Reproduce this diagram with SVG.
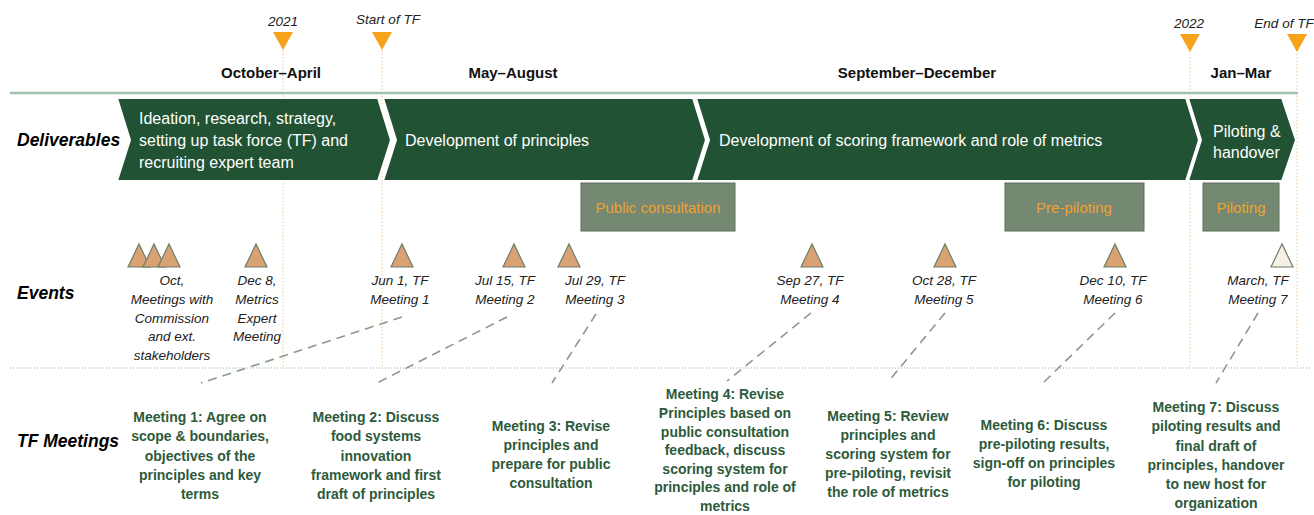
<svg xmlns="http://www.w3.org/2000/svg" width="1314" height="515" viewBox="0 0 1314 515">
<defs>
<style>
text{font-family:"Liberation Sans",Arial,sans-serif}
.top{font-size:13.5px;font-style:italic;fill:#222;text-anchor:middle}
.hdr{font-size:15px;font-weight:bold;fill:#111;text-anchor:middle}
.row{font-size:17.5px;font-weight:bold;font-style:italic;fill:#000}
.chev{fill:#215234;stroke:#fff;stroke-width:2}
.ct{font-size:16px;fill:#fff}
.box{fill:#748872;stroke:#5d6f5c;stroke-width:1}
.bt{font-size:15px;fill:#f0a22e;text-anchor:middle}
.tri{fill:#d9a273;stroke:#6e7d69;stroke-width:1.2}
.et{font-size:13.5px;font-style:italic;fill:#222;text-anchor:middle}
.mt{font-size:14px;font-weight:bold;fill:#2d5a3b;text-anchor:middle}
.vl{stroke:#f5c58e;stroke-width:1;stroke-dasharray:1.5,2;fill:none}
.conn{stroke:#8b9a88;stroke-width:1.6;stroke-dasharray:9,6;fill:none}
.mk{fill:#f7a21b}
</style>
</defs>
<rect width="1314" height="515" fill="#fff"/>
<g id="guides">
<line class="vl" x1="283" y1="50" x2="283" y2="368"/>
<line class="vl" x1="382" y1="50" x2="382" y2="368"/>
<line class="vl" x1="1190" y1="50" x2="1190" y2="366"/>
<line class="vl" x1="1297" y1="50" x2="1297" y2="366"/>
<line x1="10" y1="93" x2="1298" y2="93" stroke="#a3c0aa" stroke-width="2.5"/>
<line x1="10" y1="368" x2="1310" y2="368" stroke="#7fb08a" stroke-width="1" stroke-dasharray="1,2"/>
</g>
<g id="markers">
<text class="top" x="283" y="26">2021</text>
<polygon class="mk" points="273,32 293,32 283,50"/>
<text class="top" x="388" y="24">Start of TF</text>
<polygon class="mk" points="372,32 392,32 382,50"/>
<text class="top" x="1189" y="28">2022</text>
<polygon class="mk" points="1180,34 1200,34 1190,52"/>
<text class="top" x="1284" y="28">End of TF</text>
<polygon class="mk" points="1287,34 1307,34 1297,52"/>
</g>
<g id="headers">
<text class="hdr" x="271" y="78">October–April</text>
<text class="hdr" x="513" y="78">May–August</text>
<text class="hdr" x="917" y="78">September–December</text>
<text class="hdr" x="1241" y="78">Jan–Mar</text>
</g>
<g id="row-labels">
<text class="row" x="17" y="146">Deliverables</text>
<text class="row" x="17" y="299">Events</text>
<text class="row" x="17" y="447">TF Meetings</text>
</g>
<g id="deliverable-1">
<polygon class="chev" points="117,98 378,98 391,140 378,181 117,181 130,140"/>
<text class="ct" x="139" y="124">Ideation, research, strategy,</text>
<text class="ct" x="139" y="146">setting up task force (TF) and</text>
<text class="ct" x="139" y="168">recruiting expert team</text>
</g>
<g id="deliverable-2">
<polygon class="chev" points="383,98 693,98 706,140 693,181 383,181 396,140"/>
<text class="ct" x="405" y="146">Development of principles</text>
</g>
<g id="deliverable-3">
<polygon class="chev" points="696,98 1186,98 1199,140 1186,181 696,181 709,140"/>
<text class="ct" x="719" y="146">Development of scoring framework and role of metrics</text>
</g>
<g id="deliverable-4">
<polygon class="chev" points="1188,98 1282,98 1296,140 1282,181 1188,181 1201,140"/>
<text class="ct" x="1213" y="137">Piloting &amp;</text>
<text class="ct" x="1213" y="158">handover</text>
</g>
<g id="public-consultation">
<rect class="box" x="581" y="183" width="154" height="48"/>
<text class="bt" x="658" y="213">Public consultation</text>
</g>
<g id="pre-piloting">
<rect class="box" x="1005" y="183" width="139" height="48"/>
<text class="bt" x="1074" y="213">Pre-piloting</text>
</g>
<g id="piloting">
<rect class="box" x="1203" y="183" width="76" height="48"/>
<text class="bt" x="1241" y="213">Piloting</text>
</g>
<g id="event-oct">
<polygon class="tri" points="128,267 150,267 139,244"/>
<polygon class="tri" points="143,267 165,267 154,244"/>
<polygon class="tri" points="158,267 180,267 169,244"/>
<text class="et" x="172" y="285">Oct,</text>
<text class="et" x="172" y="304">Meetings with</text>
<text class="et" x="172" y="323">Commission</text>
<text class="et" x="172" y="341">and ext.</text>
<text class="et" x="172" y="360">stakeholders</text>
</g>
<g id="event-dec8">
<polygon class="tri" points="245,267 267,267 256,244"/>
<text class="et" x="257" y="285">Dec 8,</text>
<text class="et" x="257" y="304">Metrics</text>
<text class="et" x="257" y="323">Expert</text>
<text class="et" x="257" y="341">Meeting</text>
</g>
<g id="event-m1">
<polygon class="tri" points="391,267 413,267 402,244"/>
<text class="et" x="400" y="285">Jun 1, TF</text>
<text class="et" x="400" y="304">Meeting 1</text>
</g>
<g id="event-m2">
<polygon class="tri" points="503,267 525,267 514,244"/>
<text class="et" x="505" y="285">Jul 15, TF</text>
<text class="et" x="505" y="304">Meeting 2</text>
</g>
<g id="event-m3">
<polygon class="tri" points="558,267 580,267 569,244"/>
<text class="et" x="595" y="285">Jul 29, TF</text>
<text class="et" x="595" y="304">Meeting 3</text>
</g>
<g id="event-m4">
<polygon class="tri" points="801,267 823,267 812,244"/>
<text class="et" x="810" y="285">Sep 27, TF</text>
<text class="et" x="810" y="304">Meeting 4</text>
</g>
<g id="event-m5">
<polygon class="tri" points="934,267 956,267 945,244"/>
<text class="et" x="944" y="285">Oct 28, TF</text>
<text class="et" x="944" y="304">Meeting 5</text>
</g>
<g id="event-m6">
<polygon class="tri" points="1104,267 1126,267 1115,244"/>
<text class="et" x="1113" y="285">Dec 10, TF</text>
<text class="et" x="1113" y="304">Meeting 6</text>
</g>
<g id="event-m7">
<polygon class="tri" points="1271,267 1293,267 1282,244" style="fill:#f6f0e2"/>
<text class="et" x="1258" y="285">March, TF</text>
<text class="et" x="1258" y="304">Meeting 7</text>
</g>
<g id="connectors">
<line class="conn" x1="402" y1="317" x2="201" y2="383"/>
<line class="conn" x1="507" y1="317" x2="377" y2="383"/>
<line class="conn" x1="596" y1="314" x2="552" y2="383"/>
<line class="conn" x1="811" y1="313" x2="727" y2="381"/>
<line class="conn" x1="945" y1="313" x2="888" y2="382"/>
<line class="conn" x1="1115" y1="313" x2="1044" y2="382"/>
<line class="conn" x1="1258" y1="313" x2="1216" y2="383"/>
</g>
<g id="meeting-1">
<text class="mt" x="200" y="422">Meeting 1: Agree on</text>
<text class="mt" x="200" y="441">scope &amp; boundaries,</text>
<text class="mt" x="200" y="461">objectives of the</text>
<text class="mt" x="200" y="480">principles and key</text>
<text class="mt" x="200" y="499">terms</text>
</g>
<g id="meeting-2">
<text class="mt" x="376" y="422">Meeting 2: Discuss</text>
<text class="mt" x="376" y="441">food systems</text>
<text class="mt" x="376" y="461">innovation</text>
<text class="mt" x="376" y="480">framework and first</text>
<text class="mt" x="376" y="499">draft of principles</text>
</g>
<g id="meeting-3">
<text class="mt" x="551" y="431">Meeting 3: Revise</text>
<text class="mt" x="551" y="450">principles and</text>
<text class="mt" x="551" y="469">prepare for public</text>
<text class="mt" x="551" y="488">consultation</text>
</g>
<g id="meeting-4">
<text class="mt" x="725" y="399">Meeting 4: Revise</text>
<text class="mt" x="725" y="418">Principles based on</text>
<text class="mt" x="725" y="437">public consultation</text>
<text class="mt" x="725" y="455">feedback, discuss</text>
<text class="mt" x="725" y="474">scoring system for</text>
<text class="mt" x="725" y="492">principles and role of</text>
<text class="mt" x="725" y="511">metrics</text>
</g>
<g id="meeting-5">
<text class="mt" x="888" y="421">Meeting 5: Review</text>
<text class="mt" x="888" y="440">principles and</text>
<text class="mt" x="888" y="459">scoring system for</text>
<text class="mt" x="888" y="478">pre-piloting, revisit</text>
<text class="mt" x="888" y="497">the role of metrics</text>
</g>
<g id="meeting-6">
<text class="mt" x="1044" y="430">Meeting 6: Discuss</text>
<text class="mt" x="1044" y="449">pre-piloting results,</text>
<text class="mt" x="1044" y="468">sign-off on principles</text>
<text class="mt" x="1044" y="487">for piloting</text>
</g>
<g id="meeting-7">
<text class="mt" x="1216" y="412">Meeting 7: Discuss</text>
<text class="mt" x="1216" y="431">piloting results and</text>
<text class="mt" x="1216" y="451">final draft of</text>
<text class="mt" x="1216" y="470">principles, handover</text>
<text class="mt" x="1216" y="489">to new host for</text>
<text class="mt" x="1216" y="508">organization</text>
</g>
</svg>
